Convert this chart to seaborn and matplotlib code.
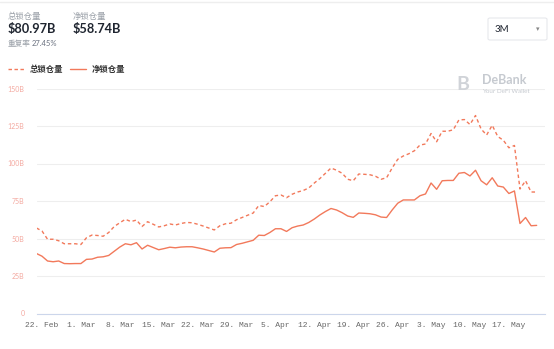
import numpy as np
import pandas as pd
import matplotlib
matplotlib.use("Agg")
import matplotlib.pyplot as plt
import seaborn as sns
from matplotlib.patches import FancyBboxPatch

# ---------------- data ----------------
start_date = "2021-02-21"
total_locked = [57, 55, 49.5, 49.5, 48.5, 46.5, 46.5, 46.5, 46, 50.5,
                52.3, 52, 51.5, 54, 58, 60.5, 62.8, 61.3, 62.3, 58,
                61.2, 59.5, 57.7, 58.5, 59.7, 59, 60, 60.7, 60.5, 59.5,
                58.3, 57, 55.7, 58.5, 59.8, 60.2, 62.5, 64, 65.5, 67,
                72, 71.3, 74.5, 78.5, 79, 77.2, 79.5, 81, 82, 83.7,
                87, 90, 93.5, 97, 95.5, 93.5, 89.5, 88.5, 93, 92.8,
                92.5, 91.5, 89.5, 90.5, 97, 102.8, 105, 106.5, 108.5, 112.3,
                113, 120, 114.5, 121.5, 121.5, 122.5, 129, 129.3, 126, 132,
                123, 119, 125.5, 118, 115.5, 110.5, 112, 83, 88.5, 81, 80.97]
net_locked = [40, 38.2, 35, 34.5, 35, 33.3, 33.2, 33.3, 33.3, 36.1,
              36.3, 37.5, 37.8, 38.7, 41.5, 44.3, 46.5, 45.8, 47.2, 43,
              45.5, 44, 42.5, 43.3, 44.2, 43.8, 44.3, 44.5, 44.5, 43.8,
              43, 42, 41, 43.5, 43.8, 43.9, 46, 46.8, 47.8, 48.8,
              52.2, 52, 54, 56.5, 56.5, 54.7, 57.2, 58.3, 59, 60.7,
              63, 65.7, 68, 70, 69, 67.2, 65, 64.1, 67, 66.8,
              66.5, 65.8, 64.3, 64, 69, 73.5, 75.7, 75.7, 75.7, 78.5,
              79.7, 87, 82.8, 88.5, 88.7, 88.7, 93.5, 94, 91.7, 95.5,
              88.5, 85.8, 90.5, 85, 84.3, 80, 81.7, 60, 64, 58.5, 58.74]
series_names = ["总锁仓量", "净锁仓量"]
y_ticks = [0, 25, 50, 75, 100, 125, 150]
y_tick_labels = ["0", "25B", "50B", "75B", "100B", "125B", "150B"]
x_tick_dates = ["2021-02-22", "2021-03-01", "2021-03-08", "2021-03-15", "2021-03-22",
                "2021-03-29", "2021-04-05", "2021-04-12", "2021-04-19", "2021-04-26",
                "2021-05-03", "2021-05-10", "2021-05-17"]
header_total = "$80.97B"
header_net = "$58.74B"
dup_rate = "27.45%"

dates = pd.date_range(start_date, periods=len(total_locked), freq="D")
df = pd.DataFrame({
    "date": np.concatenate([dates, dates]),
    "value": total_locked + net_locked,
    "series": [series_names[0]] * len(dates) + [series_names[1]] * len(dates),
})

# ---------------- style ----------------
sns.set_style("white")
plt.rcParams["font.family"] = ["Lato", "Noto Sans CJK SC", "DejaVu Sans"]

W, H = 554, 349
fig = plt.figure(figsize=(W / 100, H / 100), dpi=100)
ax = fig.add_axes([37 / W, 1 - 313.5 / H, (545 - 37) / W, (313.5 - 88.5) / H])

line_color = "#F2795B"
sns.lineplot(data=df, x="date", y="value", style="series", hue="series",
             palette=[line_color, line_color],
             dashes={series_names[0]: (2.5, 2), series_names[1]: ""},
             linewidth=1.0, ax=ax, legend=False)

ax.set_ylim(0, 150)
x0 = pd.Timestamp("2021-02-22") - pd.Timedelta(days=0.9)
x1 = pd.Timestamp("2021-02-22") + pd.Timedelta(days=90.5)
ax.set_xlim(x0, x1)

ax.set_yticks(y_ticks)
ax.set_yticklabels(y_tick_labels)
ax.yaxis.grid(True, color="#EEEEEE", linewidth=0.8)
ax.tick_params(axis="y", length=0, pad=9, labelsize=5, labelcolor="#F4A9A0")

xt = pd.to_datetime(x_tick_dates)
ax.set_xticks(xt)
ax.set_xticklabels([f"{d.day}. {d.strftime('%b')}" for d in xt],
                   fontfamily="Liberation Mono", fontsize=5.8, color="#666666")
ax.tick_params(axis="x", length=4, width=0.6, color="#CCD6EB", pad=2,
               direction="out")
for s in ["top", "right", "left"]:
    ax.spines[s].set_visible(False)
ax.spines["bottom"].set_color("#CCD6EB")
ax.spines["bottom"].set_linewidth(0.8)
ax.set_xlabel("")
ax.set_ylabel("")

# ---------------- header ----------------
fig.text(8 / W, 1 - 16 / H, series_names[0], fontsize=6, color="#9AA0A8", va="center")
fig.text(7.5 / W, 1 - 28.5 / H, header_total, fontsize=9.2, color="#1F2530",
         va="center", fontweight="bold")
fig.text(73 / W, 1 - 16 / H, series_names[1], fontsize=6, color="#9AA0A8", va="center")
fig.text(72.5 / W, 1 - 28.5 / H, header_net, fontsize=9.2, color="#1F2530",
         va="center", fontweight="bold")
fig.text(8 / W, 1 - 43 / H, "重复率", fontsize=5.5, color="#9AA0A8", va="center")
fig.text(32 / W, 1 - 43 / H, dup_rate, fontsize=5.5, color="#6B7280", va="center")

# legend
ly = 1 - 69 / H
fig.add_artist(plt.Line2D([8 / W, 24 / W], [ly, ly], color=line_color,
                          linewidth=1, linestyle=(0, (2.5, 1.8)), transform=fig.transFigure))
fig.text(30 / W, ly, series_names[0], fontsize=6, color="#333333", va="center",
         fontweight="bold")
fig.add_artist(plt.Line2D([70 / W, 86 / W], [ly, ly], color=line_color,
                          linewidth=1, transform=fig.transFigure))
fig.text(92 / W, ly, series_names[1], fontsize=6, color="#333333", va="center",
         fontweight="bold")

# dropdown box
box = FancyBboxPatch((488 / W, 1 - 40 / H), 59 / W, 22 / H,
                     boxstyle="round,pad=0,rounding_size=0.004",
                     transform=fig.transFigure, facecolor="white",
                     edgecolor="#E6E8EC", linewidth=0.8)
fig.add_artist(box)
fig.text(495 / W, 1 - 29.5 / H, "3M", fontsize=7, color="#1F2530", va="center")
fig.text(536 / W, 1 - 29.5 / H, "▾", fontsize=5, color="#888888", va="center",
         family="DejaVu Sans")

# top border line
fig.add_artist(plt.Line2D([0, 1], [1 - 1.5 / H, 1 - 1.5 / H], color="#EEEEEE",
                          linewidth=1, transform=fig.transFigure))

# watermark
fig.text(456 / W, 1 - 85 / H, "B", fontsize=14, color="#D0D3D8", va="center",
         fontweight="bold")
fig.text(482 / W, 1 - 80 / H, "DeBank", fontsize=9, color="#C6CAD0", va="center",
         fontweight="bold")
fig.text(482 / W, 1 - 92 / H, "Your DeFi Wallet", fontsize=4.5, color="#C6CAD0",
         va="center")

fig.savefig("out.png", dpi=100)
